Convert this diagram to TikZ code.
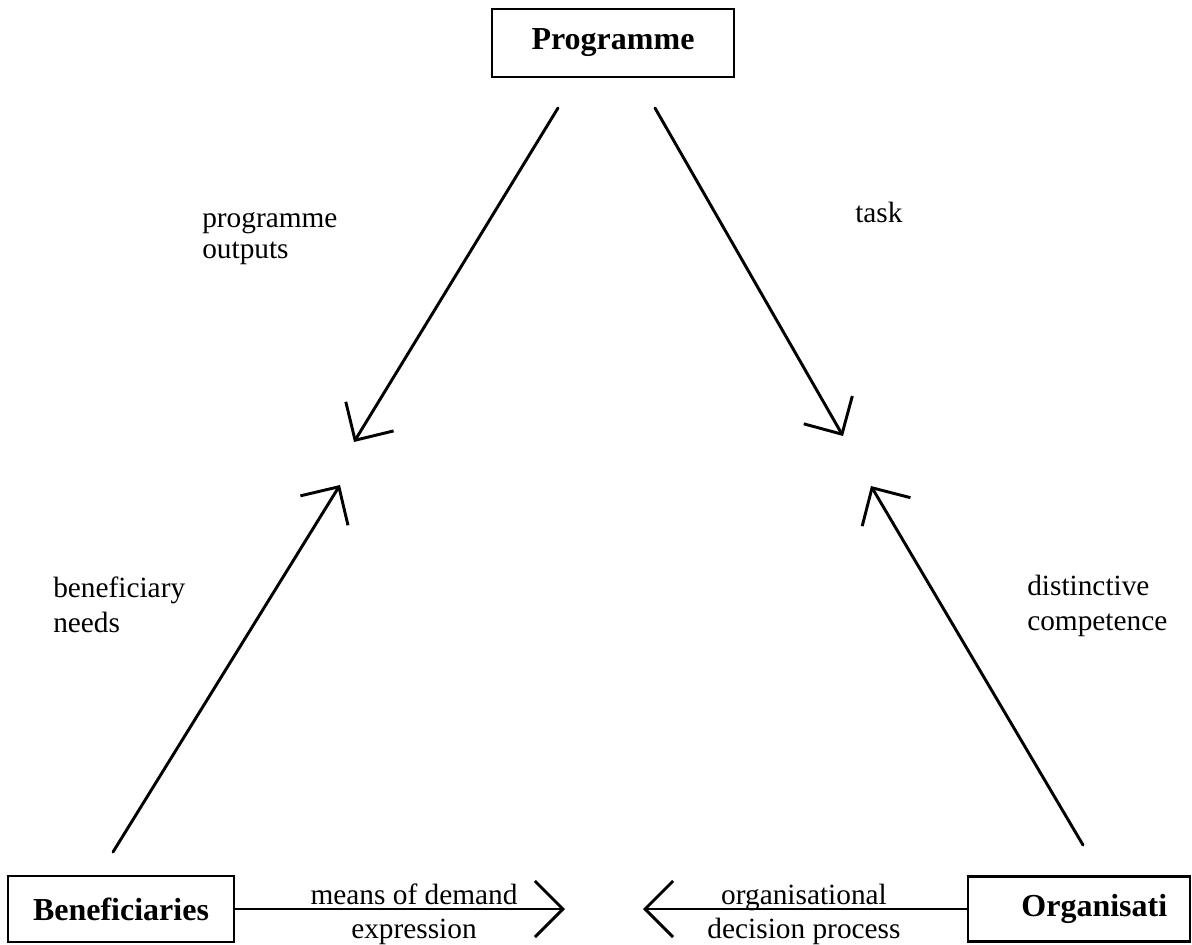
\documentclass[tikz,border=0pt]{standalone}
\usepackage{fontspec}
\setmainfont{Liberation Serif}
\usetikzlibrary{arrows.meta}
\begin{document}
\begin{tikzpicture}[x=0.75pt,y=-0.75pt,
  box/.style={draw, line width=2.2pt, inner sep=0pt, font=\fontsize{24}{28}\selectfont\bfseries},
  conn/.style={line width=2.2pt, line cap=round, -{Straight Barb[length=21pt,width=42pt]}},
  lbl/.style={inner sep=0pt, align=left, font=\fontsize{22}{26.25}\selectfont},
  lbltight/.style={inner sep=0pt, align=left, font=\fontsize{22}{23.25}\selectfont},
  lblmid/.style={inner sep=0pt, align=center, font=\fontsize{22}{25.5}\selectfont},
]
\useasboundingbox (0,0) rectangle (1192,945);
% boxes
\node[box, minimum width=181.5pt, minimum height=51pt] (prog) at (613,43) {Programme};
\node[box, minimum width=169.5pt, minimum height=49.5pt] (ben) at (121,909) {Beneficiaries};
\node[box, minimum width=166.5pt, minimum height=48.75pt] (org) at (1079,909) {\hspace*{23pt}Organisati};
% free ends
\coordinate (pl) at (558,108);
\coordinate (tl) at (354,442);
\coordinate (pr) at (655,108);
\coordinate (tr) at (843,436);
\coordinate (bl) at (113,852);
\coordinate (tbl) at (340,485);
\coordinate (br) at (1083,845);
\coordinate (tbr) at (871,486);
\coordinate (mb) at (565,909);
\coordinate (mo) at (643,909);
% connectors
\draw[conn] (pl) -- (tl);
\draw[conn] (pr) -- (tr);
\draw[conn] (bl) -- (tbl);
\draw[conn] (br) -- (tbr);
\draw[conn] (ben.east) -- (mb);
\draw[conn] (org.west) -- (mo);
% labels (base anchor = baseline of last line)
\node[lbltight, anchor=base west] (lpo) at (202,258) {programme\\outputs};
\node[lbl, anchor=base west] (ltask) at (855,223) {task};
\node[lbl, anchor=base west] (lbn) at (53,632) {beneficiary\\needs};
\node[lbl, anchor=base west] (ldc) at (1027,630) {distinctive\\competence};
\node[lblmid, anchor=base] (lmd) at (414,938) {means of demand\\expression};
\node[lblmid, anchor=base] (lod) at (804,938) {organisational\\decision process};
\end{tikzpicture}
\end{document}
